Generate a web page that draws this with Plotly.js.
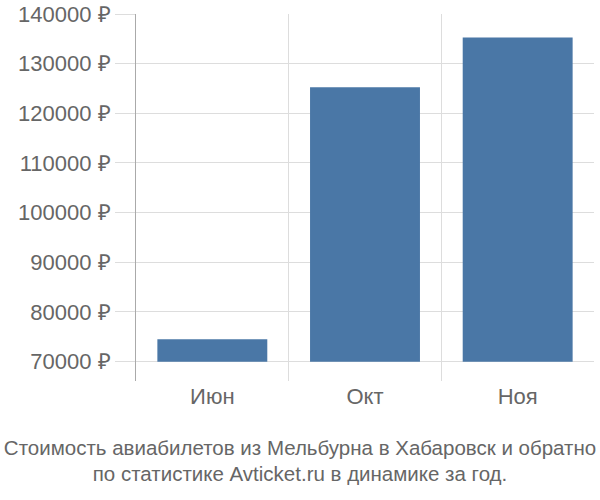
<!DOCTYPE html>
<html>
<head>
<meta charset="utf-8">
<script src="https://cdn.plot.ly/plotly-3.0.1.min.js"></script>
<style>
  html, body { margin: 0; padding: 0; background: #fff; }
  #chart { width: 600px; height: 500px; }
</style>
</head>
<body>
<div id="chart"></div>
<script>
// months and average ticket price, rubles
var months = ['Июн', 'Окт', 'Ноя'];
var prices = [74500, 125250, 135250];
var yTicks = [70000, 80000, 90000, 100000, 110000, 120000, 130000, 140000];
var yTickText = yTicks.map(function (v) { return v + ' ₽'; });

var trace = {
  type: 'bar',
  x: months,
  y: prices.map(function (p) { return p - 70000; }),
  base: 70000,
  width: 0.72,
  marker: { color: '#4a77a6' },
  hoverinfo: 'skip'
};

var layout = {
  width: 600,
  height: 500,
  margin: { l: 136, r: 6, t: 14, b: 119 },
  paper_bgcolor: '#fff',
  plot_bgcolor: '#fff',
  showlegend: false,
  font: { family: 'Liberation Sans, Arial, sans-serif', color: '#666' },
  title: {
    text: 'Стоимость авиабилетов из Мельбурна в Хабаровск и обратно<br>по статистике Avticket.ru в динамике за год.',
    font: { family: 'Liberation Sans, sans-serif', size: 20.5, color: '#666' },
    x: 0.5,
    xanchor: 'center',
    y: 0.091,
    yanchor: 'middle'
  },
  xaxis: {
    type: 'category',
    tickson: 'boundaries',
    showgrid: true,
    gridcolor: '#dddddd',
    gridwidth: 1,
    ticks: '',
    showline: false,
    zeroline: false,
    tickfont: { size: 22, color: '#666' },
    range: [-0.5, 2.5]
  },
  yaxis: {
    range: [66100, 140000],
    tickvals: yTicks,
    ticktext: yTickText,
    showgrid: true,
    gridcolor: '#dddddd',
    ticks: 'outside',
    ticklen: 20,
    tickcolor: '#dddddd',
    showline: true,
    linecolor: '#aaaaaa',
    linewidth: 1,
    zeroline: false,
    tickfont: { size: 22, color: '#666' }
  }
};

Plotly.newPlot('chart', [trace], layout, { displayModeBar: false, staticPlot: true });
</script>
</body>
</html>
